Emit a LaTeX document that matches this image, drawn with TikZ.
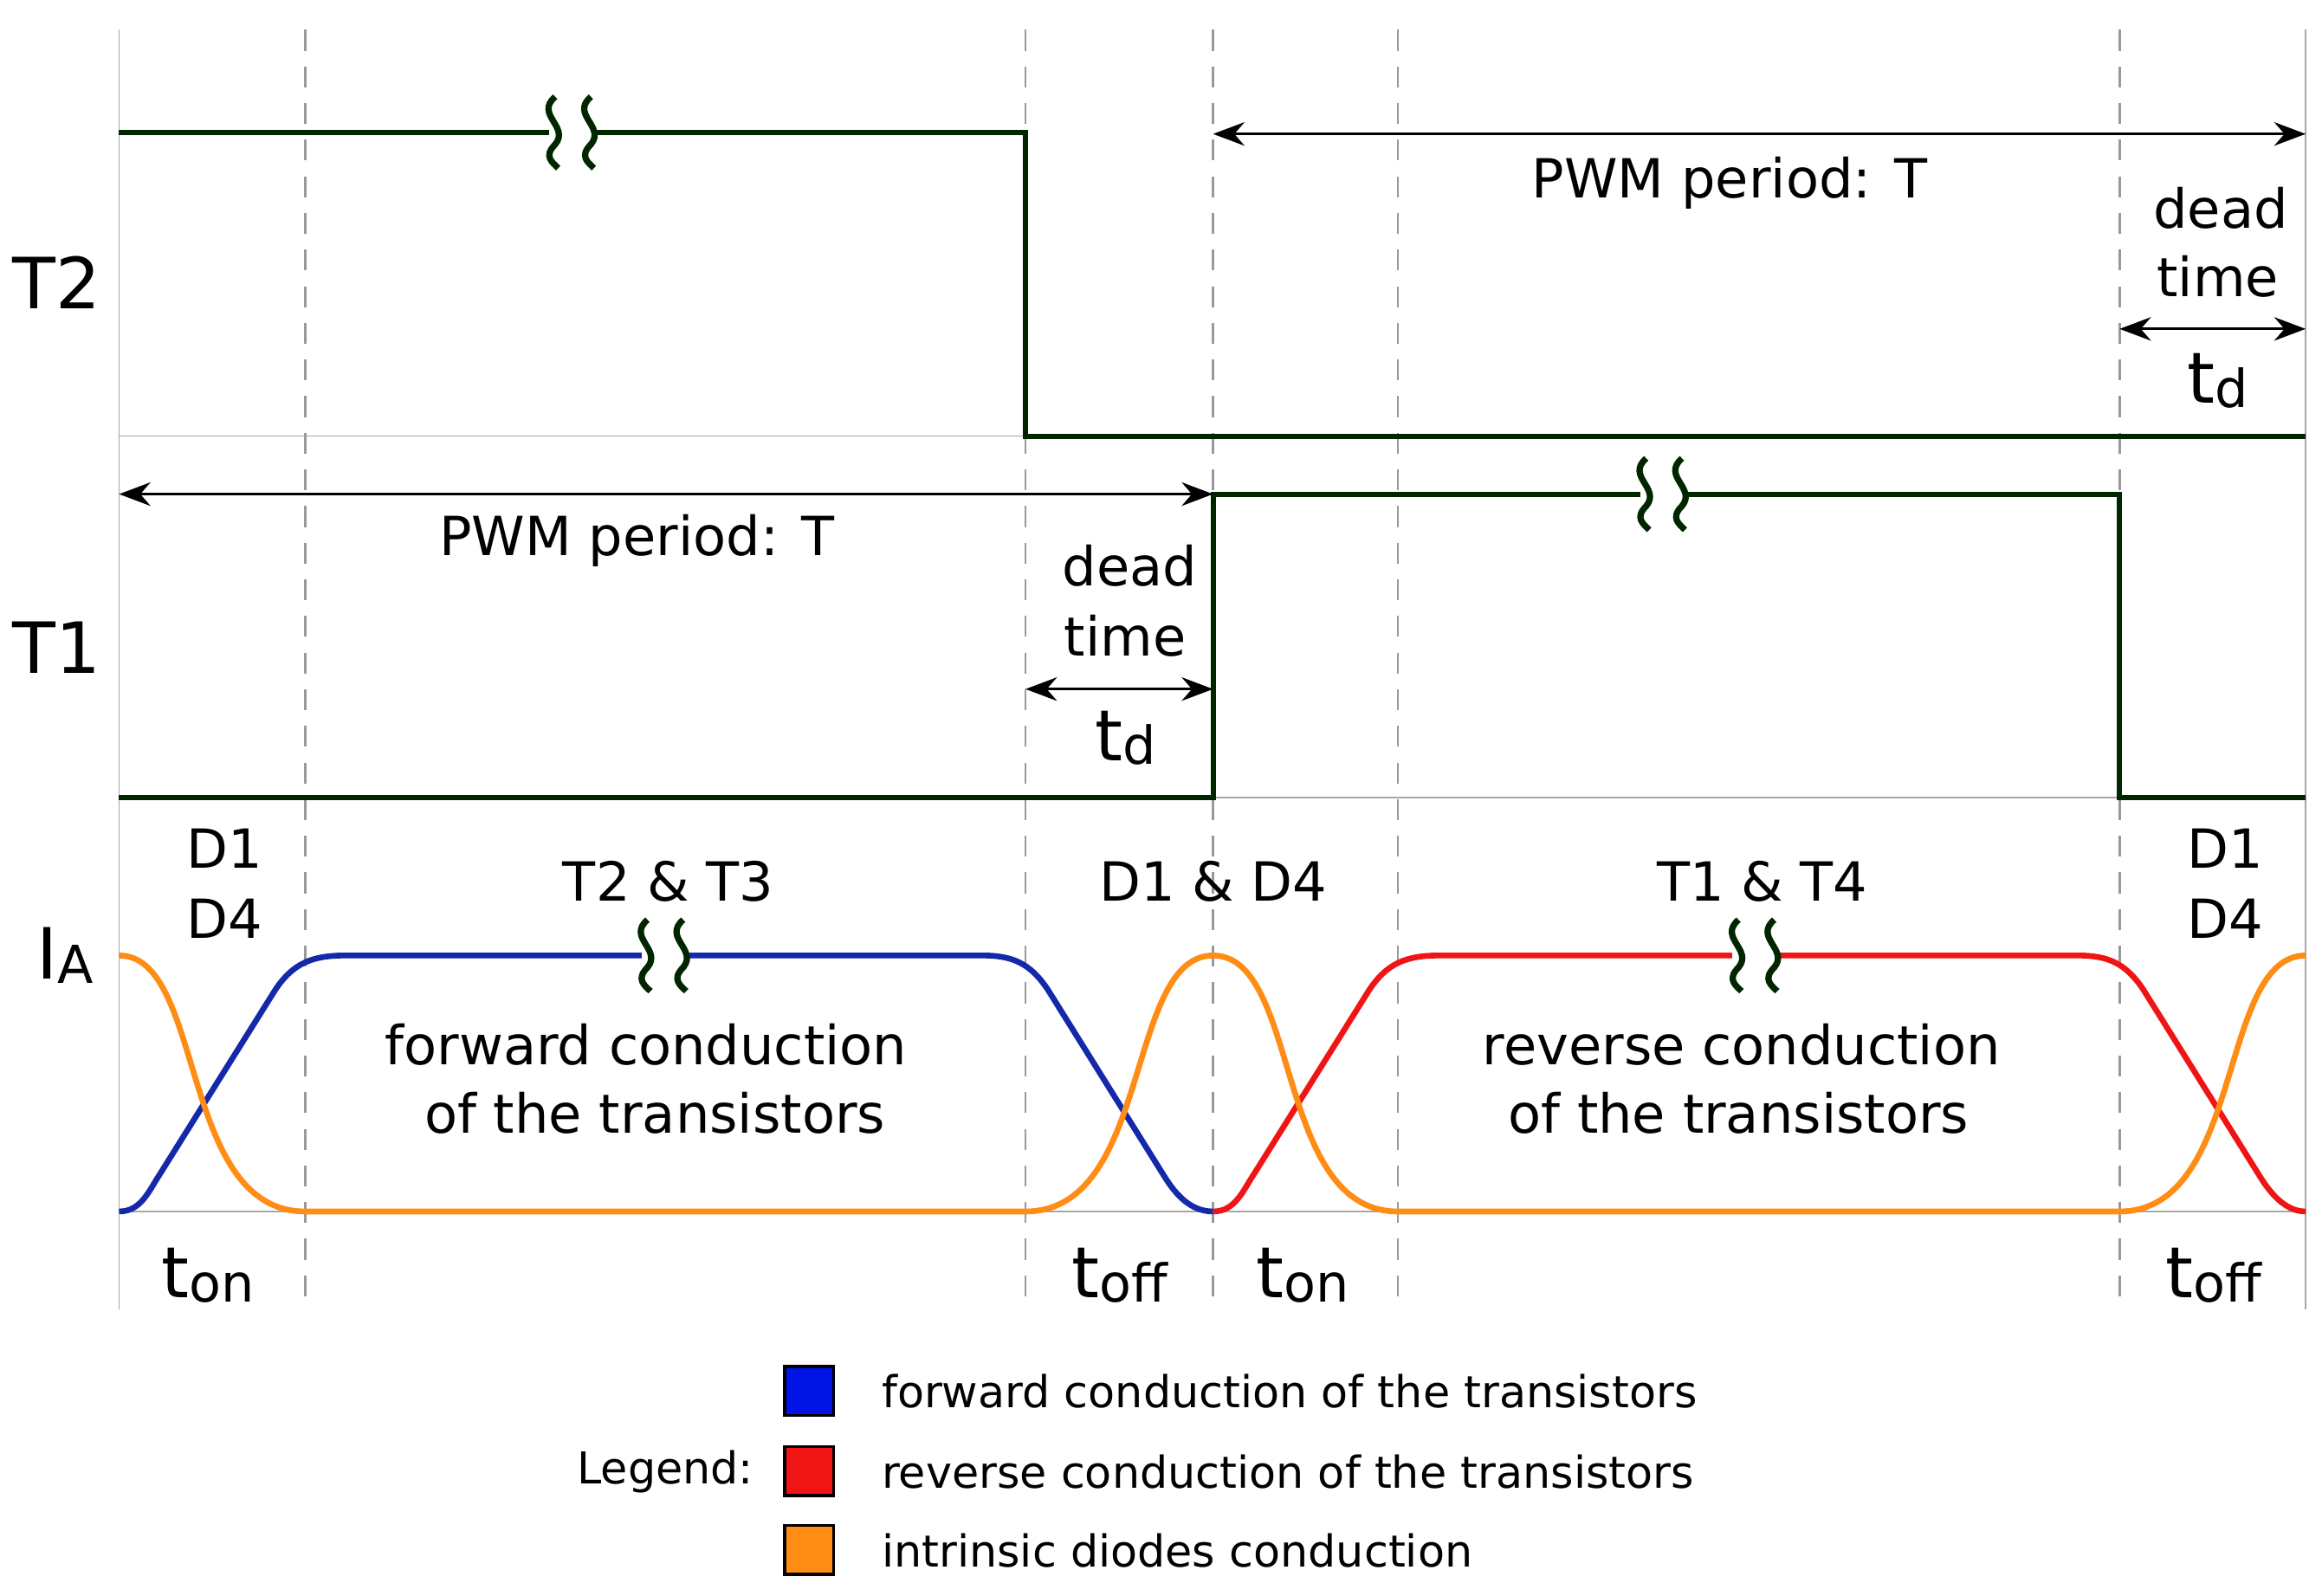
\documentclass[tikz,border=0pt]{standalone}
\usepackage{fontspec}
\setmainfont{DejaVu Sans}
\usetikzlibrary{arrows.meta}
\begin{document}
\begin{tikzpicture}[x=0.01cm,y=-0.01cm,
 sig/.style={line width=1pt,draw=black!85!green},
 grid/.style={gray!70,line width=0.3pt},
 dashl/.style={gray!80,line width=0.4pt,dash pattern=on 4pt off 3pt},
 dim/.style={line width=0.5pt,{Stealth[length=6pt]}-{Stealth[length=6pt]}},
 big/.style={font=\fontsize{13.5}{16}\selectfont},
 mid/.style={font=\fontsize{10.3}{13}\selectfont},
 leg/.style={font=\fontsize{8.4}{11}\selectfont,anchor=west},
 cur/.style={line width=1.1pt},
 brk/.style={line width=1.2pt,draw=black!85!green}]
\useasboundingbox (0,0) rectangle (1560,1072);
\fill[white] (0,0) rectangle (1560,1072);
% grid
\foreach \x in {80,1549} \draw[grid] (\x,20) -- (\x,880);
\foreach \x in {205,689,815,939,1424} \draw[dashl] (\x,20) -- (\x,880);
\foreach \y in {293,536,814} \draw[grid] (80,\y) -- (1549,\y);
% signals
\draw[sig] (80,89) -- (689,89) -- (689,293) -- (1549,293);
\draw[sig] (80,536) -- (815,536) -- (815,332) -- (1424,332) -- (1424,536) -- (1549,536);
% currents
\definecolor{bl}{RGB}{20,40,170}\definecolor{rd}{RGB}{240,20,20}\definecolor{or}{RGB}{255,140,20}
\draw[cur,bl] (80,814) .. controls (95,814) and (100,800) .. (108,788) -- (185,665) .. controls (197,647) and (210,642) .. (232,642) -- (660,642) .. controls (680,642) and (692,647) .. (704,665) -- (782,790) .. controls (790,803) and (800,814) .. (815,814);
\draw[cur,rd] (815,814) .. controls (830,814) and (835,800) .. (843,788) -- (920,665) .. controls (932,647) and (945,642) .. (967,642) -- (1396,642) .. controls (1416,642) and (1428,647) .. (1440,665) -- (1518,790) .. controls (1526,803) and (1536,814) .. (1549,814);
\draw[cur,or] (80,642) .. controls (138,642) and (120,814) .. (205,814) -- (689,814) .. controls (774,814) and (756,642) .. (815,642) .. controls (874,642) and (856,814) .. (939,814) -- (1424,814) .. controls (1508,814) and (1490,642) .. (1549,642);
% breaks
\foreach \bx/\by in {385/89,1118/332,447/642,1180/642}{
 \fill[white] (\bx-16,\by-8) rectangle (\bx+16,\by+8);
 \draw[brk] (\bx-12,\by-24) .. controls (\bx-26,\by-12) and (\bx-2,\by-4) .. (\bx-12,\by+8) .. controls (\bx-20,\by+16) and (\bx-14,\by+20) .. (\bx-10,\by+24);
 \draw[brk] (\bx+12,\by-24) .. controls (\bx-2,\by-12) and (\bx+22,\by-4) .. (\bx+12,\by+8) .. controls (\bx+4,\by+16) and (\bx+10,\by+20) .. (\bx+14,\by+24);
}
% dimension arrows
\coordinate (a1) at (815,90); \coordinate (a2) at (1549,90);
\draw[dim] (a1) -- (a2);
\coordinate (b1) at (1424,221); \coordinate (b2) at (1549,221);
\draw[dim] (b1) -- (b2);
\coordinate (c1) at (80,332); \coordinate (c2) at (815,332);
\draw[dim] (c1) -- (c2);
\coordinate (d1) at (689,463); \coordinate (d2) at (815,463);
\draw[dim] (d1) -- (d2);
% labels
\node[mid] (p1) at (1162,123) {PWM period: T};
\node[mid] (dt1) at (1492,140) {dead};
\node[mid] (dt2) at (1490,186) {time};
\node[big] (td1) at (1490,256) {t\raisebox{-0.1ex}{\fontsize{10}{12}\selectfont d}};
\node[mid] (p2) at (428,363) {PWM period: T};
\node[mid] (dt3) at (759,380) {dead};
\node[mid] (dt4) at (756,427) {time};
\node[big] (td2) at (756,496) {t\raisebox{-0.1ex}{\fontsize{10}{12}\selectfont d}};
\node[big] (T2) at (38,190) {T2};
\node[big] (T1) at (38,435) {T1};
\node[big] (IA) at (44,642) {I\raisebox{-0.1ex}{\fontsize{10}{12}\selectfont A}};
\node[mid] (r1) at (151,570) {D1};
\node[mid] (r2) at (151,617) {D4};
\node[mid] (r3) at (449,592) {T2 \& T3};
\node[mid] (r4) at (815,592) {D1 \& D4};
\node[mid] (r5) at (1184,592) {T1 \& T4};
\node[mid] (r6) at (1495,570) {D1};
\node[mid] (r7) at (1495,617) {D4};
\node[mid] (f1) at (434,702) {forward conduction};
\node[mid] (f2) at (440,748) {of the transistors};
\node[mid] (v1) at (1170,702) {reverse conduction};
\node[mid] (v2) at (1168,748) {of the transistors};
\node[big] (t1) at (140,857) {t\raisebox{-0.1ex}{\fontsize{10}{12}\selectfont on}};
\node[big] (t2) at (752,857) {t\raisebox{-0.1ex}{\fontsize{10}{12}\selectfont off}};
\node[big] (t3) at (875,857) {t\raisebox{-0.1ex}{\fontsize{10}{12}\selectfont on}};
\node[big] (t4) at (1487,857) {t\raisebox{-0.1ex}{\fontsize{10}{12}\selectfont off}};
% legend
\definecolor{lb}{RGB}{0,20,230}
\draw[fill=lb,line width=0.6pt] (527,918) rectangle (560,951);
\draw[fill=rd,line width=0.6pt] (527,972) rectangle (560,1005);
\draw[fill=or,line width=0.6pt] (527,1025) rectangle (560,1058);
\node[leg] (l1) at (580,935) {forward conduction of the transistors};
\node[leg] (l2) at (580,989) {reverse conduction of the transistors};
\node[leg] (l3) at (580,1042) {intrinsic diodes conduction};
\node[leg,anchor=center] (lg) at (447,989) {Legend:};
\end{tikzpicture}
\end{document}
